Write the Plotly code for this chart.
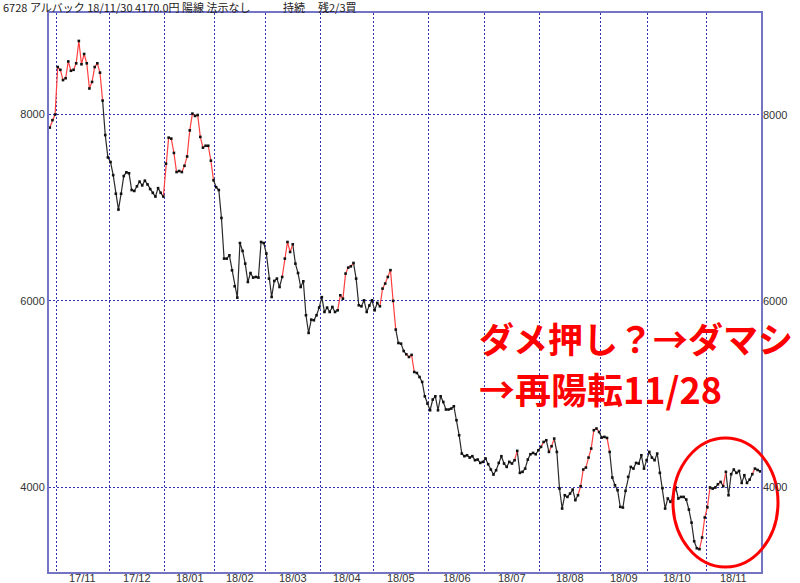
import plotly.graph_objects as go

# ---------------- data ----------------
title_main = "6728 アルバック 18/11/30 4170.0円 陽線 法示なし"
title_state = "持続"
title_signal = "残2/3買"

months = ["17/11", "17/12", "18/01", "18/02", "18/03", "18/04", "18/05",
          "18/06", "18/07", "18/08", "18/09", "18/10", "18/11"]
month_days = [20, 21, 19, 19, 21, 20, 21, 21, 21, 23, 18, 22, 21]
lead_days = 3  # trading days shown before 17/11

close_oct17 = [7860, 7940, 8000]
close_nov17 = [8510, 8480, 8370, 8390, 8570, 8470, 8480, 8550, 8790, 8540,
               8650, 8550, 8280, 8350, 8510, 8550, 8450, 8150, 7780, 7540]
close_dec17 = [7490, 7350, 7150, 6980, 7150, 7340, 7380, 7370, 7190, 7180,
               7230, 7280, 7240, 7290, 7250, 7200, 7160, 7120, 7210, 7160, 7120]
close_jan18 = [7473, 7752, 7742, 7588, 7383, 7394, 7383, 7450, 7550, 7830,
               8010, 7985, 7995, 7760, 7645, 7665, 7665, 7505, 7295]
close_feb18 = [7220, 7190, 6890, 6454, 6454, 6489, 6328, 6157, 6035, 6621,
               6536, 6400, 6203, 6299, 6250, 6257, 6250, 6632, 6621]
close_mar18 = [6508, 6239, 6042, 6214, 6239, 6149, 6257, 6454, 6632, 6525,
               6607, 6400, 6299, 6149, 6210, 5846, 5656, 5799, 5792, 5846, 5928]
close_apr18 = [6040, 5881, 5928, 5881, 5935, 5881, 5899, 6060, 6024, 6293,
               6357, 6371, 6407, 6239, 5953, 5942, 6006, 5881, 5950, 6006]
close_may18 = [5899, 5978, 5942, 6132, 6186, 6257, 6330, 6000, 5692, 5548,
               5541, 5462, 5427, 5398, 5420, 5237, 5226, 5183, 5130, 4976, 4898]
close_jun18 = [4826, 4941, 4976, 4826, 4976, 4915, 4834, 4834, 4844, 4869,
               4719, 4558, 4361, 4333, 4343, 4318, 4333, 4290, 4297, 4261, 4272]
close_jul18 = [4308, 4247, 4190, 4136, 4182, 4261, 4333, 4254, 4218, 4272,
               4254, 4290, 4390, 4154, 4165, 4200, 4297, 4354, 4368, 4354, 4397]
close_aug18 = [4433, 4486, 4504, 4379, 4440, 4522, 4379, 3986, 3771, 3914,
               3896, 3932, 3975, 3861, 3914, 4011, 4190, 4211, 4318, 4415,
               4612, 4630, 4593]
close_sep18 = [4533, 4540, 4529, 4379, 4104, 4021, 3968, 3789, 3782, 3961,
               4111, 4218, 4200, 4261, 4254, 4343, 4200, 4290]
close_oct18 = [4379, 4318, 4290, 4361, 4154, 3990, 3771, 3879, 3843, 3896,
               3997, 3879, 3896, 3896, 3868, 3760, 3620, 3420, 3345, 3335,
               3460, 3675]
close_nov18 = [3785, 3997, 3985, 3997, 4032, 4057, 4011, 4165, 3914, 4140,
               4190, 4154, 4175, 4046, 4129, 4046, 4082, 4140, 4200, 4185, 4170]

# index ranges (from point a to point b) drawn in red (陽転 state)
red_spans = [(0, 20), (43, 62), (88, 92), (109, 115), (125, 131), (135, 138),
             (176, 177), (186, 188), (189, 191), (200, 208), (211, 212),
             (246, 250), (253, 254), (255, 256), (266, 267)]

y_ticks = [4000, 6000, 8000]

note_lines = ["ダメ押し？→ダマシ", "→再陽転11/28"]

# ---------------- build ----------------
close = (close_oct17 + close_nov17 + close_dec17 + close_jan18 + close_feb18 +
         close_mar18 + close_apr18 + close_may18 + close_jun18 + close_jul18 +
         close_aug18 + close_sep18 + close_oct18 + close_nov18)
n = len(close)
xs = list(range(n))


def seg_is_red(i):
    return any(a < i <= b for a, b in red_spans)


red_x, red_y, blk_x, blk_y = [], [], [], []
prev = None
for i in range(1, n):
    r = seg_is_red(i)
    tx, ty = (red_x, red_y) if r else (blk_x, blk_y)
    if prev is None or prev != r:
        if tx:
            tx.append(None)
            ty.append(None)
        tx.append(xs[i - 1])
        ty.append(close[i - 1])
    tx.append(xs[i])
    ty.append(close[i])
    prev = r

# month boundaries / centers
bounds, centers = [], []
start = lead_days
for d in month_days:
    bounds.append(start - 0.5)
    centers.append(start + (d - 1) / 2)
    start += d

fig = go.Figure()
fig.add_trace(go.Scatter(x=blk_x, y=blk_y, mode="lines",
                         line=dict(color="#2a2a2a", width=1.2),
                         hoverinfo="skip", showlegend=False))
fig.add_trace(go.Scatter(x=red_x, y=red_y, mode="lines",
                         line=dict(color="#ff4040", width=1.2),
                         hoverinfo="skip", showlegend=False))
fig.add_trace(go.Scatter(x=xs, y=close, mode="markers",
                         marker=dict(symbol="square", size=2.6, color="#111111",
                                     line=dict(width=0)),
                         hoverinfo="skip", showlegend=False))

L, R, T, B = 49, 39, 13, 11
W, H = 800, 583
pw, ph = W - L - R, H - T - B

frame = "#7474c4"
grid = "#3030b0"
gdash = "1.5px,2.5px"

fig.update_layout(
    width=W, height=H,
    margin=dict(l=L, r=R, t=T, b=B),
    paper_bgcolor="white", plot_bgcolor="white",
    xaxis=dict(range=[-0.3, n - 1 + 0.3], tickvals=bounds,
               ticktext=[""] * len(bounds), showticklabels=False,
               showgrid=True, gridcolor=grid, griddash=gdash, gridwidth=1.4,
               zeroline=False, showline=True, mirror=True,
               linecolor=frame, linewidth=2, ticks=""),
    yaxis=dict(range=[3090, 9090], tickvals=y_ticks,
               ticktext=[str(v) for v in y_ticks],
               showgrid=True, gridcolor=grid, griddash=gdash, gridwidth=1.4,
               zeroline=False, showline=True, mirror=True,
               linecolor=frame, linewidth=2, ticks="",
               tickfont=dict(family="Liberation Sans", size=11, color="#333333")),
    font=dict(family="Noto Sans CJK JP"),
)

annotations = []
# month labels
for m, c in zip(months, centers):
    annotations.append(dict(x=c, y=0, xref="x", yref="paper", text=m,
                            showarrow=False, xanchor="center", yanchor="middle",
                            yshift=-6,
                            font=dict(family="Liberation Sans", size=11,
                                      color="#333333")))
# right side tick labels
for v in y_ticks:
    annotations.append(dict(x=1, y=v, xref="paper", yref="y", text=str(v),
                            showarrow=False, xanchor="left", yanchor="middle",
                            xshift=0,
                            font=dict(family="Liberation Sans", size=11,
                                      color="#333333")))
# header texts
for txt, px in [(title_main, 1), (title_state, 281), (title_signal, 316)]:
    annotations.append(dict(x=(px - L) / pw, y=1, xref="paper", yref="paper",
                            text=txt, showarrow=False, xanchor="left",
                            yanchor="middle", yshift=6,
                            font=dict(family="Noto Sans CJK JP", size=11,
                                      color="#222222")))
# red note
for txt, cy, fs in zip(note_lines, [338, 388], [35, 36]):
    annotations.append(dict(x=(477 - L) / pw, y=(H - B - cy) / ph,
                            xref="paper", yref="paper",
                            text="<b>" + txt + "</b>", showarrow=False,
                            xanchor="left", yanchor="middle",
                            font=dict(family="Noto Sans CJK JP", size=fs,
                                      color="#ff0000")))
fig.update_layout(annotations=annotations)

# ellipse highlighting the last weeks
fig.add_shape(type="circle", xref="paper", yref="paper",
              x0=(673 - L) / pw, x1=(778 - L) / pw,
              y0=(H - B - 567) / ph, y1=(H - B - 438) / ph,
              line=dict(color="#ff0000", width=3), layer="above")

fig.write_html("out.html",
               config={"displayModeBar": False},
               post_script="document.body.style.margin='0';"
                           "document.body.style.overflow='hidden';")
